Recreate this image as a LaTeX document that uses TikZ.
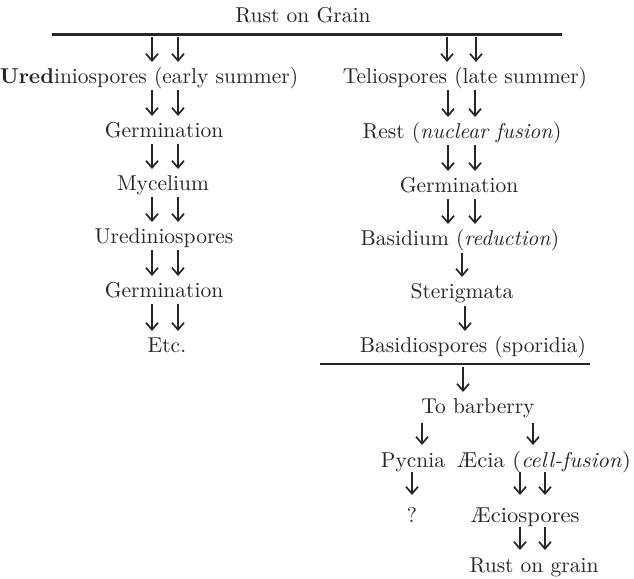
\documentclass[tikz,border=0pt]{standalone}
\usepackage{fontspec}
\setmainfont{lmroman10-regular}[Extension=.otf, BoldFont=lmroman10-bold, ItalicFont=lmroman10-italic]
\usetikzlibrary{arrows.meta,calc}
\definecolor{ink}{HTML}{262626}
\newcommand\arrdn[5]{\draw[arr] ($(#1.base -| #3)+(0,#4)$) -- ($(#2.base -| #3)+(0,-#5)$);}
\begin{document}
\begin{tikzpicture}[x=1pt,y=-1pt,
  lab/.style={anchor=base,inner sep=0pt,text=ink,font=\fontsize{21.5pt}{26pt}\selectfont},
  arr/.style={draw=ink,line width=1.8pt,-{Straight Barb[length=7pt,width=12pt,line width=1.7pt]}},
  rule/.style={draw=ink,line width=#1},
  rule/.default=1.4pt]
\useasboundingbox[fill=white] (0,0) rectangle (634,578);
% column x positions
\coordinate (L1) at (152,0); \coordinate (L2) at (178,0);
\coordinate (RA) at (447,0); \coordinate (RB) at (476,0);
\coordinate (R1) at (448,0); \coordinate (R2) at (475,0);
\coordinate (S1) at (462,0); \coordinate (S2) at (465,0); \coordinate (S3) at (463,0);
\coordinate (P1) at (422,0); \coordinate (P2) at (533,0);
\coordinate (Q1) at (412,0);
\coordinate (A1) at (520,0); \coordinate (A2) at (545,0);
% rules
\coordinate (TL) at (52,34.5); \coordinate (TR) at (562,34.5);
\coordinate (BL) at (320,364); \coordinate (BR) at (590,364);
% texts
\node[lab] (title) at (303,23) {Rust on Grain};
\node[lab] (u0) at (149,83) {\textbf{Ured}iniospores (early summer)};
\node[lab] (g1) at (164,137) {Germination};
\node[lab] (my) at (163,190) {Mycelium};
\node[lab] (u1) at (164,243) {Urediniospores};
\node[lab] (g2) at (164,297) {Germination};
\node[lab] (etc) at (167,352) {Etc.};
\node[lab] (t0) at (465,83) {Teliospores (late summer)};
\node[lab] (rest) at (462,138) {Rest (\textit{nuclear fusion})};
\node[lab] (g3) at (459,192) {Germination};
\node[lab] (bas) at (460,245) {Basidium (\textit{reduction})};
\node[lab] (ster) at (462,298) {Sterigmata};
\node[lab] (bsp) at (473,352) {Basidiospores (sporidia)};
\node[lab] (barb) at (478,413) {To barberry};
\node[lab] (pyc) at (413,467) {Pycnia};
\node[lab] (aec) at (544,467) {\scalebox{1.05}[1]{\AE cia (\textit{cell-fusion})}};
\node[lab] (q) at (412,522) {?};
\node[lab] (aecsp) at (525,522) {\scalebox{1.05}[1]{\AE ciospores}};
\node[lab] (rog) at (534,572) {Rust on grain};
% rules
\draw[rule=2.6pt] (TL) -- (TR);
\draw[rule] (BL) -- (BR);
% left column
\draw[arr] ($(TL -| L1)+(0,3)$) -- ($(u0.base -| L1)+(0,-21)$);
\draw[arr] ($(TL -| L2)+(0,3)$) -- ($(u0.base -| L2)+(0,-21)$);
\arrdn{u0}{g1}{L1}{7}{21} \arrdn{u0}{g1}{L2}{7}{21}
\arrdn{g1}{my}{L1}{7}{21} \arrdn{g1}{my}{L2}{7}{21}
\arrdn{my}{u1}{L1}{7}{21} \arrdn{my}{u1}{L2}{7}{21}
\arrdn{u1}{g2}{L1}{7}{21} \arrdn{u1}{g2}{L2}{7}{21}
\arrdn{g2}{etc}{L1}{7}{21} \arrdn{g2}{etc}{L2}{7}{21}
% right column
\draw[arr] ($(TL -| RA)+(0,3)$) -- ($(t0.base -| RA)+(0,-21)$);
\draw[arr] ($(TL -| RB)+(0,3)$) -- ($(t0.base -| RB)+(0,-21)$);
\arrdn{t0}{rest}{R1}{7}{21} \arrdn{t0}{rest}{R2}{7}{21}
\arrdn{rest}{g3}{R1}{7}{21} \arrdn{rest}{g3}{R2}{7}{21}
\arrdn{g3}{bas}{R1}{7}{21} \arrdn{g3}{bas}{R2}{7}{21}
\arrdn{bas}{ster}{S1}{8}{21}
\arrdn{ster}{bsp}{S2}{8}{21}
\draw[arr] ($(BL -| S3)+(0,3)$) -- ($(barb.base -| S3)+(0,-21)$);
\arrdn{barb}{pyc}{P1}{10}{22}
\arrdn{barb}{aec}{P2}{10}{22}
\arrdn{pyc}{q}{Q1}{5}{27}
\arrdn{aec}{aecsp}{A1}{5}{27} \arrdn{aec}{aecsp}{A2}{5}{27}
\arrdn{aecsp}{rog}{A1}{5}{22} \arrdn{aecsp}{rog}{A2}{5}{22}
\end{tikzpicture}
\end{document}
